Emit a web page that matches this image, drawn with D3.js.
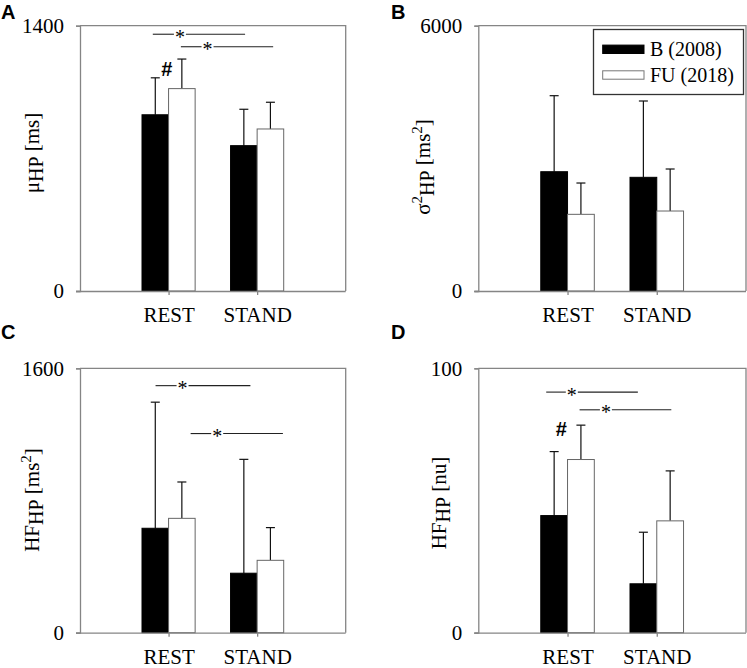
<!DOCTYPE html>
<html><head><meta charset="utf-8">
<script src="https://cdn.jsdelivr.net/npm/d3@7"></script>
<style>body{margin:0;background:#fff;} svg{display:block}</style>
</head><body>
<svg id="c" width="747" height="668"></svg>
<script>
// ---------- DATA ----------
const categories = ["REST", "STAND"];
const seriesNames = ["B (2008)", "FU (2018)"];

// A: mean heart period [ms]
const muTicks = [0, 1400];
const muB = [930, 767];
const muB_sd = [195, 192];
const muFU = [1068, 855];
const muFU_sd = [156, 141];
const muSig = [
  {y: 1355, from: -0.178, to: 0.864, star: 0.128},
  {y: 1289, from: 0.139, to: 1.181, star: 0.44}
];
const muHash = [{x: -0.02, y: 1172}];

// B: variance of heart period [ms^2]
const varTicks = [0, 6000];
const varB = [2698, 2571];
const varB_sd = [1719, 1726];
const varFU = [1734, 1809];
const varFU_sd = [708, 950];

// C: HF power [ms^2]
const hfTicks = [0, 1600];
const hfB = [632, 360];
const hfB_sd = [763, 689];
const hfFU = [692, 438];
const hfFU_sd = [220, 198];
const hfSig = [
  {y: 1495, from: -0.147, to: 0.924, star: 0.158},
  {y: 1205, from: 0.249, to: 1.291, star: 0.549}
];

// D: HF normalized units [nu]
const hfnuTicks = [0, 100];
const hfnuB = [44.3, 18.5];
const hfnuB_sd = [24.2, 19.5];
const hfnuFU = [65.5, 42.3];
const hfnuFU_sd = [13.0, 18.9];
const hfnuSig = [
  {y: 91, from: -0.239, to: 0.788, star: 0.048},
  {y: 84.3, from: 0.135, to: 1.163, star: 0.43}
];
const hfnuHash = [{x: -0.07, y: 77}];

// ---------- LAYOUT ----------
const svg = d3.select("#c");
const FONT = "'Liberation Serif', 'Times New Roman', serif";
const SANS = "'Liberation Sans', Arial, sans-serif";
const AXIS_COLOR = "#858585";
const FS = "21px";

const panels = [
  {letter: "A", lx: 1, ly: 19, left: 80, right: 345.7, top: 25.7, bottom: 291,
   ticks: muTicks, B: muB, Bsd: muB_sd, FU: muFU, FUsd: muFU_sd, sig: muSig, hash: muHash,
   label: [{t: "\u03bc"}, {t: "HP", sub: true}, {t: " [ms]"}], labX: 38.5, labY: 153},
  {letter: "B", lx: 391, ly: 19, left: 478.3, right: 746, top: 25.7, bottom: 291,
   ticks: varTicks, B: varB, Bsd: varB_sd, FU: varFU, FUsd: varFU_sd, sig: [], hash: [], legend: true,
   label: [{t: "\u03c3"}, {t: "2", sup: true}, {t: "HP", sub: true}, {t: " [ms"}, {t: "2", sup: true}, {t: "]"}], labX: 430, labY: 167},
  {letter: "C", lx: 1, ly: 339, left: 80, right: 345.7, top: 368.3, bottom: 632.7,
   ticks: hfTicks, B: hfB, Bsd: hfB_sd, FU: hfFU, FUsd: hfFU_sd, sig: hfSig, hash: [],
   label: [{t: "HF"}, {t: "HP", sub: true}, {t: " [ms"}, {t: "2", sup: true}, {t: "]"}], labX: 38.5, labY: 500},
  {letter: "D", lx: 391, ly: 339, left: 478.3, right: 746, top: 368.3, bottom: 632.7,
   ticks: hfnuTicks, B: hfnuB, Bsd: hfnuB_sd, FU: hfnuFU, FUsd: hfnuFU_sd, sig: hfnuSig, hash: hfnuHash,
   label: [{t: "HF"}, {t: "HP", sub: true}, {t: " [nu]"}], labX: 446, labY: 503}
];

const BW = 0.3; // bar width in category units

panels.forEach(p => {
  const g = svg.append("g");
  const x = d3.scaleLinear().domain([-1, 2]).range([p.left, p.right]);
  const y = d3.scaleLinear().domain(p.ticks).range([p.bottom, p.top]);

  // panel letter
  svg.append("text").attr("x", p.lx).attr("y", p.ly)
    .style("font-family", SANS).style("font-weight", "bold")
    .style("font-size", "20px").text(p.letter);

  // bars
  const bars = [];
  categories.forEach((c, ci) => {
    bars.push({ci, s: 0, v: p.B[ci], sd: p.Bsd[ci]});
    bars.push({ci, s: 1, v: p.FU[ci], sd: p.FUsd[ci]});
  });
  const x0 = d => d.s === 0 ? d.ci - BW : d.ci;

  // error bars (upper only)
  const eb = g.append("g").selectAll("g").data(bars).join("g");
  eb.append("line")
    .attr("x1", d => x(x0(d) + BW / 2)).attr("x2", d => x(x0(d) + BW / 2))
    .attr("y1", d => y(d.v)).attr("y2", d => y(d.v + d.sd))
    .attr("stroke", "#111").attr("stroke-width", 1.2);
  eb.append("line")
    .attr("x1", d => x(x0(d) + BW / 2) - 4.5).attr("x2", d => x(x0(d) + BW / 2) + 4.5)
    .attr("y1", d => y(d.v + d.sd)).attr("y2", d => y(d.v + d.sd))
    .attr("stroke", "#111").attr("stroke-width", 1.2);

  g.append("g").selectAll("rect").data(bars).join("rect")
    .attr("x", d => x(x0(d))).attr("width", d => x(x0(d) + BW) - x(x0(d)))
    .attr("y", d => y(d.v)).attr("height", d => y(0) - y(d.v))
    .attr("fill", d => d.s === 0 ? "#000" : "#fff")
    .attr("stroke", d => d.s === 0 ? "#000" : "#666").attr("stroke-width", 1);

  // box (top & right)
  g.append("path")
    .attr("d", `M${p.left},${p.top}H${p.right}V${p.bottom}`)
    .attr("fill", "none").attr("stroke", AXIS_COLOR).attr("stroke-width", 1.3);

  // y axis
  const ya = g.append("g").attr("transform", `translate(${p.left},0)`)
    .call(d3.axisLeft(y).tickValues(p.ticks).tickSize(4).tickPadding(12).tickFormat(d3.format("d")));
  ya.attr("font-size", null).attr("font-family", null);
  ya.select(".domain").attr("stroke", AXIS_COLOR).attr("stroke-width", 1.3);
  ya.selectAll(".tick line").attr("stroke", AXIS_COLOR).attr("stroke-width", 1.3);
  ya.selectAll(".tick text").style("font-family", FONT).style("font-size", FS).attr("fill", "#000");

  // x axis
  const xa = g.append("g").attr("transform", `translate(0,${p.bottom})`)
    .call(d3.axisBottom(x).tickValues([0, 1]).tickSize(4).tickPadding(12.5)
      .tickFormat(i => categories[i]));
  xa.attr("font-size", null).attr("font-family", null);
  xa.select(".domain").attr("stroke", AXIS_COLOR).attr("stroke-width", 1.3)
    .attr("d", `M${p.left - 4},0.5H${p.right}`);
  xa.selectAll(".tick line").attr("stroke", AXIS_COLOR).attr("stroke-width", 1.3);
  xa.selectAll(".tick text").style("font-family", FONT).style("font-size", FS).attr("fill", "#000");

  // significance lines
  p.sig.forEach(s => {
    const yy = y(s.y), xs = x(s.star);
    g.append("line").attr("x1", x(s.from)).attr("x2", xs - 6).attr("y1", yy).attr("y2", yy)
      .attr("stroke", "#222").attr("stroke-width", 1.1);
    g.append("line").attr("x1", xs + 6).attr("x2", x(s.to)).attr("y1", yy).attr("y2", yy)
      .attr("stroke", "#222").attr("stroke-width", 1.1);
    g.append("text").attr("x", xs).attr("y", yy + 9.5).attr("text-anchor", "middle")
      .style("font-family", FONT).style("font-size", "20px").text("*");
  });
  p.hash.forEach(h => {
    g.append("text").attr("x", x(h.x)).attr("y", y(h.y)).attr("dy", "0.36em")
      .attr("text-anchor", "middle").style("font-family", SANS)
      .style("font-weight", "bold").style("font-size", "20px").text("#");
  });

  // y label
  const t = svg.append("text")
    .attr("transform", `translate(${p.labX},${p.labY}) rotate(-90)`)
    .attr("text-anchor", "middle").style("font-family", FONT).style("font-size", FS);
  let shift = 0;
  p.label.forEach(part => {
    const ts = t.append("tspan").text(part.t);
    let target = part.sub ? 4 : part.sup ? -8 : 0;
    ts.attr("dy", target - shift);
    shift = target;
    if (part.sub) ts.style("font-size", "20px");
    if (part.sup) ts.style("font-size", "15px");
  });

  // legend
  if (p.legend) {
    const lg = svg.append("g");
    lg.append("rect").attr("x", 593.5).attr("y", 29.5).attr("width", 150).attr("height", 65)
      .attr("fill", "#fff").attr("stroke", "#333").attr("stroke-width", 1.3);
    seriesNames.forEach((n, i) => {
      const cy = 49.3 + i * 25.7;
      lg.append("rect").attr("x", 602.7).attr("y", cy - 4.2).attr("width", 41.3).attr("height", 8.4)
        .attr("fill", i === 0 ? "#000" : "#fff").attr("stroke", i === 0 ? "#000" : "#777");
      lg.append("text").attr("x", 650).attr("y", cy).attr("dy", "0.35em")
        .style("font-family", FONT).style("font-size", "20px").text(n);
    });
  }
});
</script>
</body></html>
